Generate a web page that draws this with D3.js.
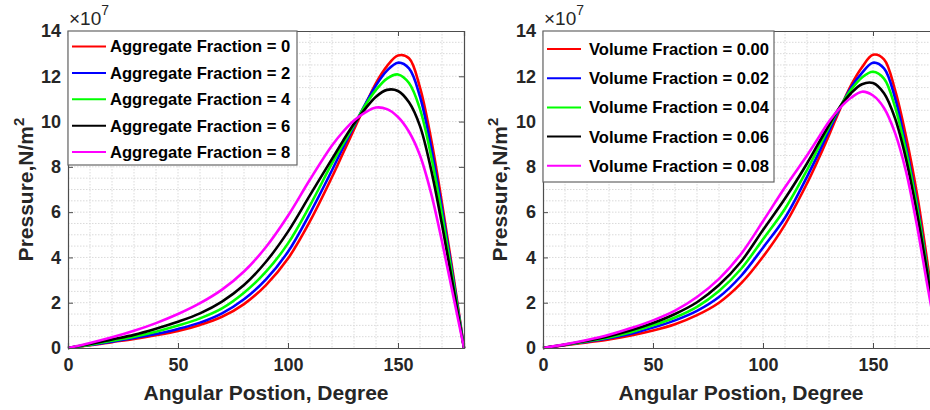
<!DOCTYPE html>
<html>
<head>
<meta charset="utf-8" />
<script src="https://cdn.jsdelivr.net/npm/d3@7"></script>
<style>
    body { margin: 0; background: #fff; }
    svg { display: block; font-family: "Liberation Sans", Arial, sans-serif; }
    .tick-lbl { font-size: 18px; font-weight: bold; fill: #262626; }
    .ax-title { font-size: 21px; font-weight: bold; fill: #262626; }
    .leg-txt { font-size: 16.6px; font-weight: bold; fill: #000; }
</style>
</head>
<body>
<svg width="930" height="410"></svg>
<script>
// angular positions (degree) shared by all curves
var angles = [0,10,20,30,40,50,60,70,80,90,100,110,120,125,130,135,140,145,150,155,160,165,170,175,180];

// left panel: pressure (x1e7 N/m^2) for aggregate fraction
var aggLabels = ["Aggregate Fraction = 0","Aggregate Fraction = 2","Aggregate Fraction = 4","Aggregate Fraction = 6","Aggregate Fraction = 8"];
var agg0 = [0,0.12,0.26,0.40,0.56,0.75,1.02,1.38,1.94,2.78,3.95,5.6,7.55,8.6,9.65,10.7,11.7,12.45,12.92,12.8,11.5,9.25,6.4,3.3,0];
var agg2 = [0,0.13,0.28,0.44,0.62,0.84,1.12,1.53,2.15,3.03,4.25,5.95,7.85,8.85,9.8,10.75,11.6,12.25,12.6,12.35,11.1,8.9,6.15,3.15,0];
var agg4 = [0,0.15,0.32,0.50,0.72,0.99,1.31,1.75,2.44,3.37,4.62,6.3,8.15,9.0,9.85,10.7,11.4,11.9,12.08,11.7,10.55,8.5,5.9,3.0,0];
var agg6 = [0,0.18,0.38,0.58,0.85,1.16,1.53,2.05,2.78,3.81,5.14,6.75,8.35,9.15,9.9,10.55,11.1,11.4,11.35,10.85,9.8,7.9,5.45,2.75,0];
var agg8 = [0,0.22,0.47,0.76,1.10,1.50,1.98,2.58,3.38,4.46,5.84,7.44,8.94,9.55,10.05,10.4,10.62,10.55,10.2,9.55,8.5,6.85,4.7,2.35,0];

// right panel: pressure (x1e7 N/m^2) for volume fraction
var volLabels = ["Volume Fraction = 0.00","Volume Fraction = 0.02","Volume Fraction = 0.04","Volume Fraction = 0.06","Volume Fraction = 0.08"];
var vol000 = [0,0.12,0.25,0.38,0.55,0.77,1.05,1.45,2.0,2.85,4.03,5.45,7.27,8.3,9.4,10.55,11.6,12.4,12.95,12.75,11.4,9.35,6.8,3.6,0];
var vol002 = [0,0.13,0.28,0.43,0.63,0.90,1.22,1.64,2.25,3.18,4.43,5.75,7.56,8.55,9.6,10.6,11.5,12.15,12.6,12.35,11.05,8.9,6.4,3.3,0];
var vol004 = [0,0.14,0.30,0.47,0.70,1.00,1.35,1.82,2.52,3.49,4.8,6.15,7.86,8.8,9.75,10.65,11.4,11.95,12.2,11.9,10.65,8.7,6.25,3.25,0];
var vol006 = [0,0.15,0.32,0.52,0.78,1.10,1.50,2.02,2.78,3.81,5.21,6.6,8.15,9.0,9.85,10.65,11.25,11.65,11.7,11.25,10.15,8.35,5.95,3.1,0];
var vol008 = [0,0.16,0.35,0.58,0.88,1.22,1.65,2.25,3.05,4.15,5.6,7.1,8.5,9.25,10.0,10.6,11.05,11.32,11.15,10.6,9.5,7.8,5.4,2.6,0];

var colors = ["#ff0000","#0000ff","#00ff00","#000000","#ff00ff"];
var xTicks = [0,50,100,150];
var yTicks = [0,2,4,6,8,10,12,14];

var svg = d3.select("svg");

function panel(opt) {
    var x = d3.scaleLinear().domain([0,180]).range([opt.left, opt.left + 396]);
    var y = d3.scaleLinear().domain([0,14]).range([348, 31]);
    var g = svg.append("g");

    // minor grid
    g.selectAll("line.gmx").data(d3.range(10,180,10)).enter().append("line")
        .attr("x1", d => x(d)).attr("x2", d => x(d)).attr("y1", 31).attr("y2", 348)
        .attr("stroke", "#dadada").attr("stroke-width", 1).attr("stroke-dasharray", "1.5,1.5");
    g.selectAll("line.gmy").data(d3.range(0.5,14,0.5)).enter().append("line")
        .attr("y1", d => y(d)).attr("y2", d => y(d)).attr("x1", x(0)).attr("x2", x(180))
        .attr("stroke", "#dadada").attr("stroke-width", 1).attr("stroke-dasharray", "1.5,1.5");

    // curves
    var line = d3.line().x(d => x(d[0])).y(d => y(d[1])).curve(d3.curveCatmullRom);
    opt.series.forEach(function(s, i) {
        g.append("path")
            .datum(angles.map((a, k) => [a, s[k]]))
            .attr("fill", "none").attr("stroke", colors[i]).attr("stroke-width", 2.6)
            .attr("d", line);
    });

    // axes with inward ticks
    var xa = g.append("g").attr("transform", "translate(0,348)")
        .call(d3.axisBottom(x).tickValues(xTicks).tickSize(-5).tickPadding(10));
    var xt = g.append("g").attr("transform", "translate(0,31)")
        .call(d3.axisTop(x).tickValues(xTicks).tickSize(-5).tickFormat(""));
    var ya = g.append("g").attr("transform", "translate(" + x(0) + ",0)")
        .call(d3.axisLeft(y).tickValues(yTicks).tickSize(-5).tickPadding(7));
    var yr = g.append("g").attr("transform", "translate(" + x(180) + ",0)")
        .call(d3.axisRight(y).tickValues(yTicks).tickSize(-5).tickFormat(""));
    [xa, xt, ya, yr].forEach(function(a) {
        a.select(".domain").attr("stroke", "#4d4d4d").attr("stroke-width", 1.2);
        a.selectAll(".tick line").attr("stroke", "#4d4d4d");
        a.selectAll(".tick text").attr("class", "tick-lbl").attr("font-family", null).attr("font-size", null);
    });

    // exponent
    var ex = g.append("text").attr("x", x(0) + 1).attr("y", 25)
        .attr("font-size", 19).attr("fill", "#262626");
    ex.append("tspan").text("\u00d710");
    ex.append("tspan").attr("dy", -10).attr("font-size", 14).text("7");

    // titles
    g.append("text").attr("class", "ax-title").attr("x", x(90)).attr("y", 400)
        .attr("text-anchor", "middle").text("Angular Postion, Degree");
    var yt = g.append("text").attr("class", "ax-title")
        .attr("transform", "translate(" + opt.ylabX + ",189.5) rotate(-90)")
        .attr("text-anchor", "middle");
    yt.append("tspan").text("Pressure,N/m");
    yt.append("tspan").attr("dy", -9).attr("font-size", 15).text("2");

    // legend
    var lg = g.append("g");
    lg.append("rect").attr("x", x(0)).attr("y", 31)
        .attr("width", opt.legW).attr("height", opt.legH)
        .attr("fill", "#fff").attr("stroke", "#666").attr("stroke-width", 1.2);
    opt.labels.forEach(function(t, i) {
        var yy = opt.legY0 + i * opt.legStep;
        lg.append("line").attr("x1", x(0) + 4).attr("x2", x(0) + 38)
            .attr("y1", yy).attr("y2", yy).attr("stroke", colors[i]).attr("stroke-width", 2);
        lg.append("text").attr("class", "leg-txt").attr("x", x(0) + opt.legTx).attr("y", yy)
            .attr("dy", "0.36em").text(t);
    });
}

panel({left: 68, ylabX: 33, series: [agg0, agg2, agg4, agg6, agg8], labels: aggLabels,
       legW: 229, legH: 134, legY0: 46.5, legStep: 26.4, legTx: 42});
panel({left: 543, ylabX: 507, series: [vol000, vol002, vol004, vol006, vol008], labels: volLabels,
       legW: 231, legH: 151, legY0: 49, legStep: 29.2, legTx: 46});
</script>
</body>
</html>
